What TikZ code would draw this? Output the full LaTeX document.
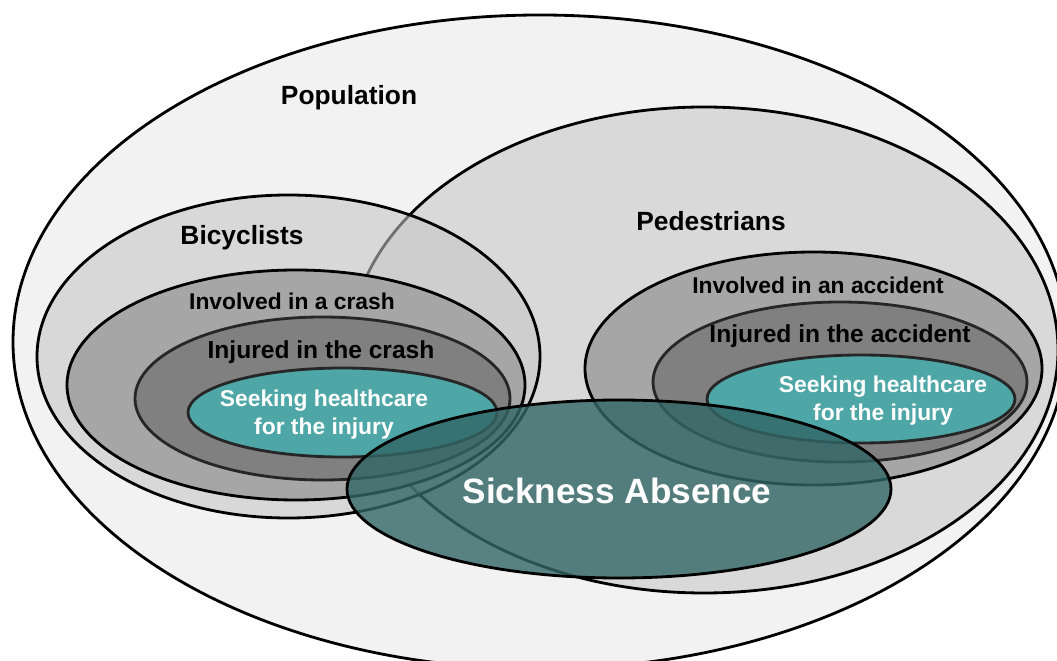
\documentclass[tikz,border=0pt]{standalone}
\usepackage{fontspec}
\setmainfont{Liberation Sans}
\usetikzlibrary{positioning}

\definecolor{popgray}{HTML}{F2F2F2}
\definecolor{pedgray}{HTML}{D9D9D9}
\definecolor{bikegray}{HTML}{C6C6C6}
\definecolor{crashgray}{HTML}{A6A6A6}
\definecolor{injgray}{HTML}{808080}
\definecolor{careteal}{RGB}{78,166,166}
\definecolor{sickteal}{RGB}{50,102,102}

\begin{document}
\begin{tikzpicture}[x=0.02cm,y=-0.02cm,
        ring/.style={draw=black,line width=1.6pt},
        inring/.style={draw=black!85,line width=1.6pt},
        lbl/.style={font=\bfseries\fontsize{13}{16}\selectfont,inner sep=0pt},
        injlbl/.style={font=\bfseries\fontsize{14}{16}\selectfont,inner sep=0pt},
        biglbl/.style={font=\bfseries\fontsize{15}{18}\selectfont,inner sep=0pt},
        carelbl/.style={lbl,text=white,align=center}]
            \useasboundingbox (0,0) rectangle (1057,661);
            \clip (0,0) rectangle (1057,661);

            \coordinate (Pop) at (540,342);
            \coordinate (Ped) at (704,350);
            \coordinate (Bike) at (288.5,356.5);
            \coordinate (BCrash) at (296,385);
            \coordinate (BInj) at (322.5,398.5);
            \coordinate (BCare) at (342.5,412.5);
            \coordinate (PAcc) at (813.5,368.5);
            \coordinate (PInj) at (840,382);
            \coordinate (PCare) at (861,399);
            \coordinate (Sick) at (619,489);

            % population and the two groups
            \filldraw[ring,fill=popgray] (Pop) ellipse [x radius=527, y radius=327];
            \filldraw[ring,fill=pedgray] (Ped) ellipse [x radius=354, y radius=243];
            \draw[ring,fill=bikegray,fill opacity=0.57] (Bike) ellipse [x radius=251.5, y radius=161.5];

            % bicyclists
            \filldraw[ring,fill=crashgray] (BCrash) ellipse [x radius=229, y radius=115];
            \filldraw[inring,fill=injgray] (BInj) ellipse [x radius=187.5, y radius=81.5];
            \filldraw[inring,fill=careteal] (BCare) ellipse [x radius=154.5, y radius=44.5];

            % pedestrians
            \filldraw[ring,fill=crashgray] (PAcc) ellipse [x radius=228.5, y radius=116.5];
            \filldraw[inring,fill=injgray] (PInj) ellipse [x radius=187, y radius=80];
            \filldraw[inring,fill=careteal] (PCare) ellipse [x radius=154, y radius=44];

            % sickness absence on top
            \draw[ring,fill=sickteal,fill opacity=0.8] (Sick) ellipse [x radius=272, y radius=89];

            \node[biglbl] (popl) at (349,98) {Population};
            \node[biglbl] (bikel) at (242,238) {Bicyclists};
            \node[biglbl] (pedl) at (711,221) {Pedestrians};
            \node[lbl] (bcrashl) at (292,301) {Involved in a crash};
            \node[injlbl] (binjl) at (321,352) {Injured in the crash};
            \node[carelbl] (bcarel) at (324,415) {Seeking healthcare\\for the injury};
            \node[lbl] (paccl) at (818,285) {Involved in an accident};
            \node[injlbl] (pinjl) at (840,336) {Injured in the accident};
            \node[carelbl] (pcarel) at (883,401) {Seeking healthcare\\for the injury};
            \node[font=\bfseries\fontsize{20}{24}\selectfont,text=white] (sickl) at (617,491) {Sickness Absence};
\end{tikzpicture}
\end{document}
